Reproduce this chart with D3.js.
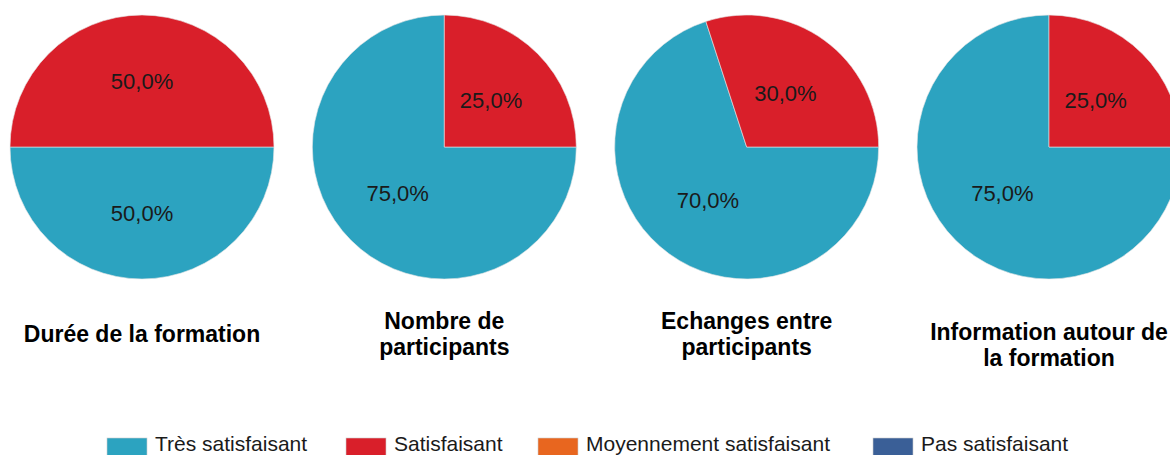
<!DOCTYPE html>
<html>
<head>
<meta charset="utf-8">
<script src="https://cdn.jsdelivr.net/npm/d3@7"></script>
<style>
  html, body { margin: 0; padding: 0; background: #fff; }
  svg { display: block; }
</style>
</head>
<body>
<svg id="chart" width="1170" height="455"></svg>
<script>
const categories = ["Très satisfaisant", "Satisfaisant", "Moyennement satisfaisant", "Pas satisfaisant"];
const colors = ["#2ca3c0", "#d91f2a", "#e8661f", "#3a5f97"];
const pieTitles = [
  ["Durée de la formation"],
  ["Nombre de", "participants"],
  ["Echanges entre", "participants"],
  ["Information autour de", "la formation"]
];
const duree = [50, 50, 0, 0];
const nombre = [75, 25, 0, 0];
const echanges = [70, 30, 0, 0];
const information = [75, 25, 0, 0];
const seriesValues = [duree, nombre, echanges, information];

// layout
const W = 1170, H = 455;
const radius = 132;
const cy = 147;
const titleBaselineShift = [0, 0, 0, 11];

const svg = d3.select("#chart");
const x = d3.scalePoint().domain(d3.range(4)).range([142, 1049]);
const color = d3.scaleOrdinal().domain(categories).range(colors);
const pie = d3.pie().sort(null).value(d => d.v).startAngle(Math.PI / 2).endAngle(Math.PI / 2 + 2 * Math.PI);
const arc = d3.arc().innerRadius(0).outerRadius(radius);
const labelArc = d3.arc().innerRadius(radius * 0.5).outerRadius(radius * 0.5);
const fmt = v => d3.format(".1f")(v).replace(".", ",") + "%";

seriesValues.forEach((vals, i) => {
  const g = svg.append("g").attr("transform", `translate(${x(i)},${cy})`);
  const data = pie(vals.map((v, k) => ({ v, c: categories[k] })));
  g.selectAll("path").data(data.filter(d => d.data.v > 0)).join("path")
    .attr("d", arc)
    .attr("fill", d => color(d.data.c))
    .attr("stroke", "#e6e6e6")
    .attr("stroke-width", 0.6);
  g.selectAll("text").data(data.filter(d => d.data.v > 0)).join("text")
    .attr("transform", d => `translate(${labelArc.centroid(d)})`)
    .attr("text-anchor", "middle")
    .attr("dominant-baseline", "central")
    .attr("font-family", "Liberation Sans, Arial, sans-serif")
    .attr("font-size", 22)
    .attr("fill", "#1a1a1a")
    .text(d => fmt(d.data.v));

  const lines = pieTitles[i];
  const lh = 26;
  const blockCenter = 335 + titleBaselineShift[i];
  const firstBaseline = blockCenter + 7 - (lines.length - 1) * lh / 2;
  const t = svg.append("text")
    .attr("text-anchor", "middle")
    .attr("font-family", "Liberation Sans, Arial, sans-serif")
    .attr("font-size", 23)
    .attr("font-weight", "bold")
    .attr("fill", "#000");
  lines.forEach((ln, j) => {
    t.append("tspan").attr("x", x(i)).attr("y", firstBaseline + j * lh).text(ln);
  });
});

// legend
const legendX = [107, 346, 538, 873];
const lg = svg.append("g");
categories.forEach((c, k) => {
  lg.append("rect").attr("x", legendX[k]).attr("y", 438).attr("width", 40).attr("height", 20)
    .attr("fill", color(c)).attr("stroke", "#ccc").attr("stroke-width", 0.6);
  lg.append("text").attr("x", legendX[k] + 48).attr("y", 451)
    .attr("font-family", "Liberation Sans, Arial, sans-serif")
    .attr("font-size", 21)
    .attr("fill", "#1a1a1a")
    .text(c);
});
</script>
</body>
</html>
